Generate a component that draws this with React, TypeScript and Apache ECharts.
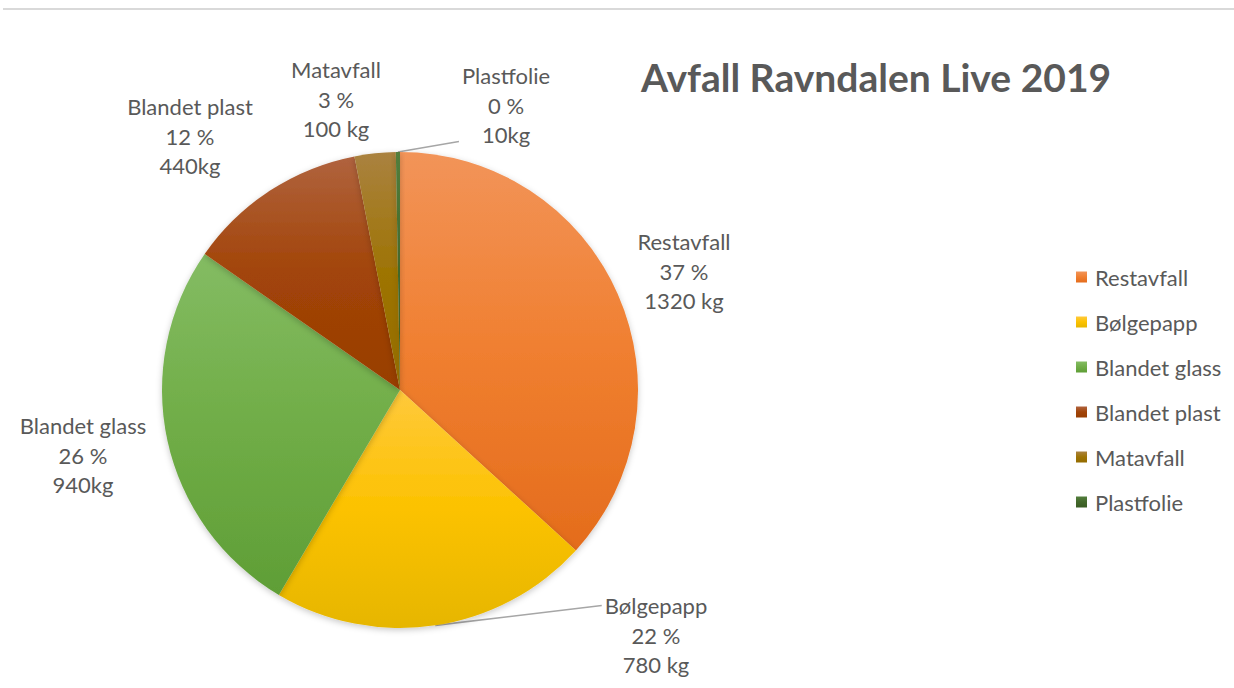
import React, { useEffect, useRef } from "react";
import * as echarts from "echarts";

const categories = ["Restavfall", "Bølgepapp", "Blandet glass", "Blandet plast", "Matavfall", "Plastfolie"];
const values = [1320, 780, 940, 440, 100, 10];
const kgTexts = ["1320 kg", "780 kg", "940kg", "440kg", "100 kg", "10kg"];
const title = "Avfall Ravndalen Live 2019";

// gradient stops per slice: light (top), base (middle), dark (bottom)
const palette = [
  ["#F29459", "#F07F30", "#E46C1C"],
  ["#FFC93C", "#FCC200", "#E6B600"],
  ["#84BC63", "#70AD47", "#5F9E36"],
  ["#B0633E", "#A24408", "#983E02"],
  ["#AA8240", "#9E7405", "#946C00"],
  ["#527E3C", "#43682B", "#3A5C24"],
];

// label anchor positions (centre of the middle text line)
const labelPos = [
  [684, 271],
  [656, 635],
  [83, 455],
  [190, 136],
  [336, 99],
  [506, 105],
];
// which text line the leader line joins: -1 none, 0 first line, 2 last line
const lineTarget = [-1, 0, -1, -1, -1, 2];

const FONT = "Lato, 'Open Sans', sans-serif";
const LH = 29.5;

export default function App() {
  const ref = useRef<HTMLDivElement>(null);
  useEffect(() => {
    if (!ref.current) return;
    const chart = echarts.init(ref.current, undefined, { renderer: "svg" });
    const data = categories.map((name, i) => ({
      name,
      value: values[i],
      itemStyle: {
        color: new echarts.graphic.LinearGradient(0, 0, 0, 1, [
          { offset: 0, color: palette[i][0] },
          { offset: 0.5, color: palette[i][1] },
          { offset: 1, color: palette[i][2] },
        ]),
      },
      labelLine: { show: lineTarget[i] >= 0 },
    }));
    chart.setOption({
      animation: false,
      backgroundColor: "#ffffff",
      title: {
        text: title,
        left: 636,
        top: 52,
        textStyle: { fontFamily: FONT, fontSize: 39, fontWeight: "bold", color: "#595959" },
      },
      legend: {
        orient: "vertical",
        left: 1071,
        top: 261,
        icon: "rect",
        itemWidth: 11,
        itemHeight: 11,
        itemGap: 23,
        data: categories,
        textStyle: { fontFamily: FONT, fontSize: 22, color: "#595959", lineHeight: 22, padding: [0, 0, 0, 3] },
      },
      graphic: [
        {
          type: "line",
          shape: { x1: 3, y1: 9, x2: 1234, y2: 9 },
          style: { stroke: "#D9D9D9", lineWidth: 2 },
        },
      ],
      series: [
        {
          type: "pie",
          center: [400, 390],
          radius: [0, 238],
          startAngle: 90,
          clockwise: true,
          avoidLabelOverlap: false,
          itemStyle: {
            borderWidth: 0,
            shadowBlur: 6,
            shadowColor: "rgba(0,0,0,0.22)",
            shadowOffsetY: 2,
          },
          label: {
            show: true,
            position: "outside",
            fontFamily: FONT,
            fontSize: 22,
            lineHeight: LH,
            color: "#595959",
            align: "center",
            formatter: (p: any) => `${p.name}\n${Math.round(p.percent)} %\n${kgTexts[p.dataIndex]}`,
          },
          labelLine: {
            show: false,
            length: 10,
            length2: 10,
            smooth: false,
            lineStyle: { color: "#A6A6A6", width: 1.6 },
          },
          labelLayout: (params: any) => {
            const i = params.dataIndex;
            const pos = labelPos[i];
            const out: any = { x: pos[0], y: pos[1], align: "center", verticalAlign: "middle" };
            const t = lineTarget[i];
            if (t >= 0 && params.labelLinePoints && params.labelRect) {
              const w = params.labelRect.width;
              const h = params.labelRect.height;
              const left = pos[0] - w / 2 - 3;
              const top = pos[1] - h / 2;
              const ey = t === 0 ? top + LH / 2 : top + h - LH / 2 + 7;
              const a = params.labelLinePoints[0];
              out.labelLinePoints = [
                [a[0], a[1]],
                [left, ey],
                [left, ey],
              ];
            }
            return out;
          },
          emphasis: { disabled: true },
          data,
        },
      ],
    });
    return () => chart.dispose();
  }, []);
  return (
    <div
      ref={ref}
      style={{ position: "fixed", left: 0, top: 0, width: 1234, height: 688, background: "#fff" }}
    />
  );
}
